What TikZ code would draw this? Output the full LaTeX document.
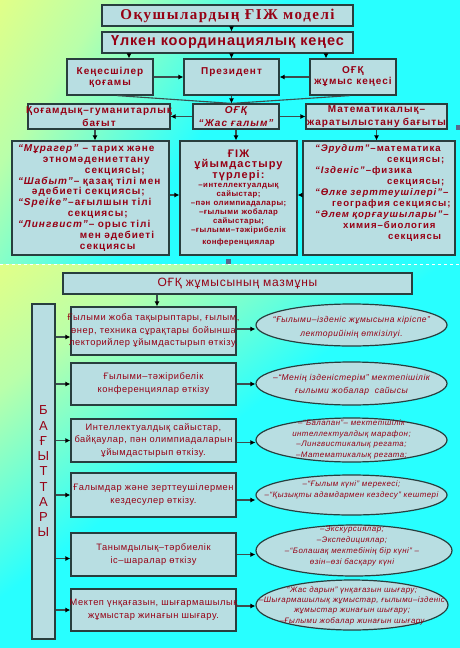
\documentclass[tikz,border=0pt]{standalone}
\usepackage{fontspec}
\setmainfont{Liberation Sans}
\newfontfamily\widesans[LetterSpace=6]{Liberation Sans}
\newfontfamily\boldsans[LetterSpace=10]{Liberation Sans}
\newfontfamily\titleserif[LetterSpace=10]{Liberation Serif}
\usetikzlibrary{arrows.meta}
\usetikzlibrary{shapes.geometric}
\definecolor{txtred}{RGB}{150,0,20}
\definecolor{boxfill}{RGB}{184,222,226}
\definecolor{boxline}{RGB}{40,62,62}
\definecolor{arrline}{RGB}{60,78,78}
\definecolor{handle}{RGB}{90,105,140}
\definecolor{bgyellow}{RGB}{255,255,110}
\definecolor{bggreen}{RGB}{185,255,170}
\definecolor{bgcyan}{RGB}{40,255,255}
\pgfdeclareverticalshading{slidebg}{100bp}{color(0bp)=(bgcyan); color(53bp)=(bgcyan); color(73bp)=(bggreen); color(94bp)=(bgyellow); color(100bp)=(bgyellow)}
\newcommand{\secline}[2]{\hspace*{#1}\rlap{#2}}
\newcommand{\midline}[1]{\makebox[0pt]{#1}}

\begin{document}
\begin{tikzpicture}[x=1pt,y=-1pt,
    box/.style={shape=rectangle,draw=boxline,fill=boxfill,line width=1.2pt,
      inner sep=0pt,text=txtred,align=center},
    oval/.style={shape=ellipse,draw=boxline,fill=boxfill,line width=1.2pt,inner sep=0pt},
    ovaltext/.style={text=txtred,align=center,inner sep=0pt},
    arr/.style={-{Latex[length=5pt,width=5pt,color=black]},draw=arrline,line width=1.2pt},
    link/.style={draw=arrline,line width=1.1pt}]
  \useasboundingbox (0,0) rectangle (460,648);
  %\draw[help lines,step=20] (0,0) grid (460,648); % Only for Development

  % backgrounds of the two slides
  \shade[shading=slidebg,shading angle=57] (0,0) rectangle (460,264);
  \shade[shading=slidebg,shading angle=37] (0,264) rectangle (460,648);
  \draw[white,dashed,line width=0.8pt] (0,264) -- (460,264);
  \fill[handle] (226,259) rectangle (231,264);
  \fill[handle] (456,125) rectangle (460,130);

  % first slide
  \node[box,
    font=\titleserif\bfseries\fontsize{15}{17}\selectfont,
    minimum width=251pt,
    minimum height=21pt] (title) at (227.5,15.5) {Оқушылардың ҒІЖ моделі};
  \node[box,
    font=\widesans\bfseries\fontsize{14.5}{16}\selectfont,
    minimum width=251pt,
    minimum height=21pt] (ulken) at (227.5,42.5) {Үлкен координациялық кеңес};
  \node[box,
    font=\boldsans\bfseries\fontsize{10}{11}\selectfont,
    minimum width=86pt,
    minimum height=36pt] (kenes) at (110,77) {Кеңесшілер\\қоғамы};
  \node[box,
    font=\boldsans\bfseries\fontsize{10}{11}\selectfont,
    minimum width=95pt,
    minimum height=36pt] (prez) at (231.5,77) {Президент\\\mbox{}};
  \node[box,
    font=\boldsans\bfseries\fontsize{10}{11}\selectfont,
    minimum width=86pt,
    minimum height=36pt] (jumys) at (353,77) {ОҒҚ\\жұмыс кеңесі};

  \node[box,
    font=\boldsans\bfseries\fontsize{10}{13}\selectfont,
    text width=142pt,
    minimum height=25pt] (gum) at (99,116.5) {\midline{Қоғамдық–гуманитарлық}\\\midline{бағыт}};
  \node[box,
    font=\boldsans\bfseries\itshape\fontsize{10}{13}\selectfont,
    minimum width=86pt,
    minimum height=25pt] (jas) at (236,116.5) {ОҒҚ\\“Жас ғалым”};
  \node[box,
    font=\boldsans\bfseries\fontsize{10}{13}\selectfont,
    text width=141pt,
    minimum height=25pt] (mat) at (376.5,116.5) {\midline{Математикалық–}\\\midline{жаратылыстану бағыты}};

  \node[box,
    align=left,
    font=\boldsans\bfseries\fontsize{10}{10.9}\selectfont,
    text width=157pt,
    minimum height=114pt] (gsec) at (90.5,198) {%
    \secline{6pt}{\textit{“Мұрагер”} – тарих және}\\
    \secline{31pt}{этномәдениеттану}\\
    \secline{73pt}{секциясы;}\\
    \secline{6pt}{\textit{“Шабыт”}– қазақ тілі мен}\\
    \secline{20pt}{әдебиеті секциясы;}\\
    \secline{6pt}{\textit{“Speike”}–ағылшын тілі}\\
    \secline{56pt}{секциясы;}\\
    \secline{6pt}{\textit{“Лингвист”}– орыс тілі}\\
    \secline{68pt}{мен әдебиеті}\\
    \secline{68pt}{секциясы}};
  \node[box,
    font=\widesans\bfseries,
    text width=117pt,
    minimum height=114pt] (turler) at (238.5,198) {%
    {\boldsans\fontsize{11}{10.5}\selectfont ҒІЖ\\ұйымдастыру\\түрлері:\par}
    \fontsize{7.8}{9}\selectfont
    \midline{–интеллектуалдық}\\\midline{сайыстар;}\\\midline{–пән олимпиадалары;}\\
    \midline{–ғылыми жобалар}\\\midline{сайыстары;}\\\midline{–ғылыми–тәжірибелік}\\
    \midline{конференциялар}};
  \node[box,
    align=left,
    font=\boldsans\bfseries\fontsize{9.6}{11}\selectfont,
    text width=152pt,
    minimum height=114pt] (msec) at (379,198) {%
    \secline{12pt}{\textit{“Эрудит”}–математика}\\
    \secline{84pt}{секциясы;}\\
    \secline{12pt}{\textit{“Ізденіс”}–физика}\\
    \secline{84pt}{секциясы;}\\
    \secline{12pt}{\textit{“Өлке зерттеушілері”}–}\\
    \secline{29pt}{география секциясы;}\\
    \secline{12pt}{\textit{“Әлем қорғаушылары”}–}\\
    \secline{40pt}{химия–биология}\\
    \secline{85pt}{секциясы}\\
    \mbox{}};

  \coordinate (kenesin) at (129,0);
  \coordinate (jumysin) at (326,0);
  \draw[arr] (title.south -| prez.north) -- (ulken.north -| prez.north);
  \draw[arr] (ulken.south -| kenesin) -- (kenes.north -| kenesin);
  \draw[arr] (ulken.south -| prez.north) -- (prez.north);
  \draw[arr] (ulken.south -| jumysin) -- (jumys.north -| jumysin);
  \draw[arr] (kenes.east) -- (prez.west);
  \draw[arr] (jumys.west) -- (prez.east);
  \draw[link] ([xshift=7pt]kenes.south) -- (prez.south |- jas.north);
  \draw[link] ([xshift=-3pt]jumys.south) -- (prez.south |- jas.north);
  \draw[arr] (prez.south) -- (prez.south |- jas.north);
  \draw[arr] (jas.west) -- (gum.east);
  \draw[arr] (jas.east) -- (mat.west);
  \draw[arr] ([xshift=-4pt]gum.south) -- ([xshift=-4pt]gum.south |- gsec.north);
  \draw[arr] (jas.south) -- (jas.south |- turler.north);
  \draw[arr] (mat.south) -- (mat.south |- msec.north);
  \draw[arr] ([yshift=3pt]gsec.east) -- ([yshift=3pt]turler.west);
  \draw[arr] ([yshift=3pt]msec.west) -- ([yshift=3pt]turler.east);

  % second slide
  \node[box,
    font=\widesans\fontsize{12}{14}\selectfont,
    minimum width=349pt,
    minimum height=21pt] (mazmun) at (237.5,283.5) {ОҒҚ жұмысының мазмұны};
  \node[box,
    font=\fontsize{13}{15.25}\selectfont,
    minimum width=23pt,
    minimum height=335pt] (bag) at (43.5,471.5) {Б\\А\\Ғ\\Ы\\Т\\Т\\А\\Р\\Ы};

  \node[box,
    font=\widesans\fontsize{9.3}{12.5}\selectfont,
    text width=165pt,
    minimum height=48pt] (r1) at (153.5,331) {\midline{Ғылыми жоба тақырыптары, ғылым,}\\
    \midline{өнер, техника сұрақтары бойынша}\\\midline{лекторийлер ұйымдастырып өткізу.}};
  \node[box,
    font=\widesans\fontsize{9.3}{13}\selectfont,
    text width=165pt,
    minimum height=42pt] (r2) at (153.5,384) {\midline{Ғылыми–тәжірибелік}\\\midline{конференциялар өткізу}};
  \node[box,
    font=\widesans\fontsize{9.3}{12.5}\selectfont,
    text width=165pt,
    minimum height=43pt] (r3) at (153.5,440.5) {\midline{Интеллектуалдық сайыстар,}\\
    \midline{байқаулар, пән олимпиадаларын}\\\midline{ұйымдастырып өткізу.}};
  \node[box,
    font=\widesans\fontsize{9.3}{13}\selectfont,
    text width=165pt,
    minimum height=44pt] (r4) at (153.5,495) {\midline{Ғалымдар және зерттеушілермен}\\\midline{кездесулер өткізу.}};
  \node[box,
    font=\widesans\fontsize{9.3}{13}\selectfont,
    text width=165pt,
    minimum height=43pt] (r5) at (153.5,554.5) {\midline{Танымдылық–тәрбиелік}\\\midline{іс–шаралар өткізу}};
  \node[box,
    font=\widesans\fontsize{9.3}{12.5}\selectfont,
    text width=165pt,
    minimum height=42pt] (r6) at (153.5,610) {\midline{Мектеп үнқағазын, шығармашылық}\\\midline{жұмыстар жинағын шығару.}};

  \node[oval,minimum width=191pt,minimum height=42pt] (e1) at (351.5,325) {};
  \node[oval,minimum width=191pt,minimum height=43pt] (e2) at (351.5,383.5) {};
  \node[oval,minimum width=191pt,minimum height=44pt] (e3) at (351.5,440) {};
  \node[oval,minimum width=191pt,minimum height=40pt] (e4) at (351.5,495) {};
  \node[oval,minimum width=196pt,minimum height=51pt] (e5) at (354,550.5) {};
  \node[oval,minimum width=192pt,minimum height=50pt] (e6) at (352,605) {};

  \node[ovaltext,font=\widesans\itshape\fontsize{8.5}{14}\selectfont] (e1text) at (351.5,327.5)
    {“Ғылыми–ізденіс жұмысына кіріспе”\\лекторийінің өткізілуі.};
  \node[ovaltext,font=\widesans\itshape\fontsize{8.5}{13}\selectfont] (e2text) at (351.5,384.5)
    {–“Менің ізденістерім” мектепішілік\\ғылыми жобалар\ \ сайысы};
  \node[ovaltext,font=\widesans\itshape\fontsize{7.9}{10.7}\selectfont] (e3text) at (351.5,439.5)
    {–“Балапан”– мектепішілік\\интеллектуалдық марафон;\\–Лингвистикалық регата;\\–Математикалық регата;};
  \node[ovaltext,font=\widesans\itshape\fontsize{7.9}{10.5}\selectfont] (e4text) at (351.5,490)
    {–“Ғылым күні” мерекесі;\\–“Қызықты адамдармен кездесу” кештері};
  \node[ovaltext,font=\widesans\itshape\fontsize{7.9}{11}\selectfont] (e5text) at (352,546)
    {–Экскурсиялар;\\–Экспедициялар;\\–“Болашақ мектебінің бір күні” –\\өзін–өзі басқару күні};
  \node[ovaltext,font=\widesans\itshape\fontsize{7.9}{10.3}\selectfont] (e6text) at (352,605.5)
    {“Жас дарын” үнқағазын шығару;\\–Шығармашылық жұмыстар, ғылыми–ізденіс\\жұмыстар жинағын шығару;\\–Ғылыми жобалар жинағын шығару};

  \coordinate (mazmunout) at (157,0);
  \draw[arr] (mazmun.south -| mazmunout) -- (r1.north -| mazmunout);
  \draw[arr] ([yshift=-6pt]r1.west -| bag.east) -- ([yshift=-6pt]r1.west);
  \draw[arr] (r2.west -| bag.east) -- (r2.west);
  \draw[arr] (r3.west -| bag.east) -- (r3.west);
  \draw[arr] (r4.west -| bag.east) -- (r4.west);
  \draw[arr] ([yshift=-4pt]r5.west -| bag.east) -- ([yshift=-4pt]r5.west);
  \draw[arr] (r6.west -| bag.east) -- (r6.west);
  \draw[arr] ([yshift=2pt]r1.east) -- ([yshift=2pt]r1.east -| e1.west);
  \draw[arr] (r2.east) -- (r2.east -| e2.west);
  \draw[arr] ([yshift=-2pt]r3.east) -- ([yshift=-2pt]r3.east -| e3.west);
  \draw[arr] ([yshift=-5pt]r4.east) -- ([yshift=-5pt]r4.east -| e4.west);
  \draw[arr] (r5.east) -- (r5.east -| e5.west);
  \draw[arr] ([yshift=4pt]r6.east) -- ([yshift=4pt]r6.east -| e6.west);
\end{tikzpicture}
\end{document}
